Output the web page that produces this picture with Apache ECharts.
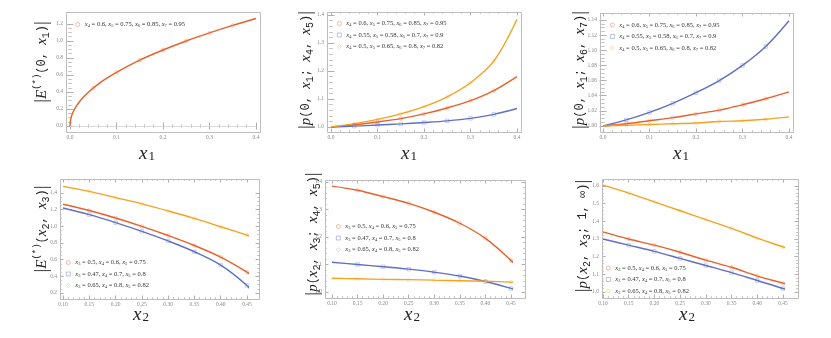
<!DOCTYPE html>
<html>
<head>
<meta charset="utf-8">
<script src="https://cdn.jsdelivr.net/npm/echarts@6/dist/echarts.min.js"></script>
<style>
  html, body { margin: 0; padding: 0; background: #fff; }
  #chart { width: 831px; height: 338px; }
</style>
</head>
<body>
<div id="chart"></div>
<script>
// 六个小图，数据按图分开写在上面
const xTop = [0, 0.05, 0.1, 0.15, 0.2, 0.25, 0.3, 0.35, 0.4];
const xP1 = [0, 0.001, 0.003, 0.006, 0.01, 0.015, 0.02, 0.03, 0.04, 0.05, 0.075, 0.1, 0.15, 0.2, 0.25, 0.3, 0.35, 0.4];
const eP1 = [0, 0.06, 0.11, 0.155, 0.2, 0.245, 0.283, 0.346, 0.4, 0.447, 0.548, 0.632, 0.775, 0.894, 1.0, 1.095, 1.183, 1.265];

const p2Red  = [1.0, 1.008, 1.018, 1.03, 1.047, 1.068, 1.094, 1.13, 1.18];
const p2Blue = [1.0, 1.003, 1.007, 1.011, 1.016, 1.022, 1.031, 1.045, 1.066];
const p2Gold = [1.0, 1.012, 1.027, 1.047, 1.073, 1.108, 1.158, 1.235, 1.385];

const p3Red  = [1.0, 1.003, 1.007, 1.011, 1.016, 1.021, 1.028, 1.036, 1.045];
const p3Blue = [1.0, 1.008, 1.018, 1.03, 1.044, 1.06, 1.08, 1.105, 1.139];
const p3Gold = [1.0, 1.001, 1.002, 1.003, 1.004, 1.006, 1.007, 1.009, 1.012];

const xP4 = [0.1, 0.15, 0.2, 0.25, 0.3, 0.35, 0.4, 0.45, 0.46];
const p4Red  = [1.265, 1.19, 1.1, 1.0, 0.89, 0.77, 0.63, 0.45, 0.40];
const p4Blue = [1.22, 1.14, 1.045, 0.94, 0.825, 0.695, 0.535, 0.29, 0.2];
const p4Gold = [1.48, 1.42, 1.345, 1.27, 1.185, 1.095, 0.995, 0.895, 0.875];

const xBot = [0.1, 0.15, 0.2, 0.25, 0.3, 0.35, 0.4, 0.45, 0.47];
const p5Red  = [1.385, 1.37, 1.347, 1.322, 1.29, 1.25, 1.195, 1.115, 1.075];
const p5Blue = [1.108, 1.1, 1.092, 1.083, 1.072, 1.058, 1.038, 1.013, 1.0];
const p5Gold = [1.05, 1.048, 1.046, 1.045, 1.043, 1.041, 1.039, 1.036, 1.034];

const p6Red  = [1.34, 1.3, 1.265, 1.225, 1.18, 1.14, 1.09, 1.05, 1.03];
const p6Blue = [1.30, 1.265, 1.23, 1.19, 1.15, 1.11, 1.065, 1.02, 1.0];
const p6Gold = [1.605, 1.56, 1.51, 1.46, 1.41, 1.36, 1.305, 1.255, 1.23];

const markTop = [0.05, 0.1, 0.15, 0.2, 0.25, 0.3, 0.35];
const markBot = [0.15, 0.2, 0.25, 0.3, 0.35, 0.4, 0.45];

const namesTop = ['x4 = 0.6, x5 = 0.75, x6 = 0.85, x7 = 0.95', 'x4 = 0.55, x5 = 0.58, x6 = 0.7, x7 = 0.9', 'x4 = 0.5, x5 = 0.65, x6 = 0.8, x7 = 0.82'];
const namesBot = ['x3 = 0.5, x4 = 0.6, x5 = 0.75', 'x3 = 0.47, x4 = 0.7, x5 = 0.8', 'x3 = 0.65, x4 = 0.8, x5 = 0.82'];

const RED = '#e8612c', BLUE = '#5f6fc7', GOLD = '#f4a21f';
const cols = [RED, BLUE, GOLD];
const icons = ['circle', 'rect', 'diamond'];
const SERIF = '"Liberation Serif", "DejaVu Serif", serif';
const MONO = '"Liberation Mono", "DejaVu Sans Mono", monospace';

// 版面：grid 只覆盖刻度范围，外框单独画
const panels = [
  { grid: [70, 24, 186, 102], frame: [66, 12, 194, 120], off: [6, 12, 4, 4],
    x: [0, 0.4, 0.1, 1, 5], y: [0, 1.2, 0.2, 1, 4],
    xs: xP1, curves: [eP1], names: namesTop.slice(0, 1), marks: markTop,
    legend: [75.5, 21], ylab: [42, 62], xlab: [147, 154, 'x', '1'],
    ytxt: '{bar||}{i|E}{sup|(*)}{m|(0, }{i|x}{sub|1}{m|)}{bar||}' },
  { grid: [331, 15, 186, 112], frame: [327, 12, 194, 120], off: [5, 3, 4, 4],
    x: [0, 0.4, 0.1, 1, 5], y: [1.0, 1.4, 0.1, 1, 5],
    xs: xTop, curves: [p2Red, p2Blue, p2Gold], names: namesTop, marks: markTop,
    legend: [337, 20], ylab: [306, 70], xlab: [409, 154, 'x', '1'],
    ytxt: '{bar||}{i|p}{m|(0, }{i|x}{sub|1}{m|; }{i|x}{sub|4}{m|, }{i|x}{sub|5}{m|)}{bar||}' },
  { grid: [603, 20, 186, 106], frame: [600, 13, 193, 119], off: [6, 7, 3, 4],
    x: [0, 0.4, 0.1, 1, 5], y: [1.0, 1.14, 0.02, 2, 4],
    xs: xTop, curves: [p3Red, p3Blue, p3Gold], names: namesTop, marks: markTop,
    legend: [610, 21.5], ylab: [580, 70], xlab: [681, 154, 'x', '1'],
    ytxt: '{bar||}{i|p}{m|(0, }{i|x}{sub|1}{m|; }{i|x}{sub|6}{m|, }{i|x}{sub|7}{m|)}{bar||}' },
  { grid: [63, 193, 184, 100], frame: [60, 179, 199, 120], off: [6, 14, 3, 12],
    x: [0.1, 0.45, 0.05, 2, 5], y: [0.2, 1.4, 0.2, 1, 4],
    xs: xP4, curves: [p4Red, p4Blue, p4Gold], names: namesBot, marks: markBot,
    legend: [66, 259], ylab: [42, 229], xlab: [141, 315, 'x', '2'],
    ytxt: '{bar||}{i|E}{sup|(*)}{m|(}{i|x}{sub|2}{m|, }{i|x}{sub|3}{m|)}{bar||}' },
  { grid: [332, 182, 179, 110], frame: [325, 180, 200, 118], off: [6, 2, 7, 14],
    x: [0.1, 0.45, 0.05, 2, 5], y: [1.0, 1.4, 0.1, 1, 5],
    xs: xBot, curves: [p5Red, p5Blue, p5Gold], names: namesBot, marks: markBot,
    legend: [336, 223], ylab: [313, 234], xlab: [412, 315, 'x', '2'],
    ytxt: '{bar||}{i|p}{m|(}{i|x}{sub|2}{m|, }{i|x}{sub|3}{m|; }{i|x}{sub|4}{m|, }{i|x}{sub|5}{m|)}{bar||}' },
  { grid: [603, 186, 180, 106], frame: [602, 179, 196, 119], off: [6, 7, 1, 15],
    x: [0.1, 0.45, 0.05, 2, 5], y: [1.0, 1.6, 0.1, 1, 5],
    xs: xBot, curves: [p6Red, p6Blue, p6Gold], names: namesBot, marks: markBot,
    legend: [606, 264.5], ylab: [583, 236], xlab: [687, 315, 'x', '2'],
    ytxt: '{bar||}{i|p}{m|(}{i|x}{sub|2}{m|, }{i|x}{sub|3}{m|; 1, \u221e)}{bar||}' }
];

const tickCol = '#9a9a9a';
const grids = [], xAxes = [], yAxes = [], series = [], legends = [], graphics = [];

function axisBase(r, show) {
  return {
    min: r[0], max: r[1], interval: r[2],
    axisLine: { show: false },
    axisTick: { show: true, inside: true, length: 3.5, lineStyle: { color: tickCol, width: 0.8 } },
    minorTick: { show: true, splitNumber: r[4], length: 1.8, lineStyle: { color: tickCol, width: 0.6 } },
    splitLine: { show: false },
    axisLabel: {
      show: show, fontSize: 5.5, color: '#8a8a8a', fontFamily: SERIF, margin: 3,
      formatter: v => v.toFixed(r[3])
    }
  };
}

panels.forEach((p, i) => {
  grids.push({ left: p.grid[0], top: p.grid[1], width: p.grid[2], height: p.grid[3] });
  xAxes.push(Object.assign(axisBase(p.x, true), { type: 'value', gridIndex: i, position: 'bottom', offset: p.off[0] }));
  xAxes.push(Object.assign(axisBase(p.x, false), { type: 'value', gridIndex: i, position: 'top', offset: p.off[1] }));
  yAxes.push(Object.assign(axisBase(p.y, true), { type: 'value', gridIndex: i, position: 'left', offset: p.off[2] }));
  yAxes.push(Object.assign(axisBase(p.y, false), { type: 'value', gridIndex: i, position: 'right', offset: p.off[3] }));

  p.curves.forEach((ys, k) => {
    const pts = p.xs.map((x, j) => [x, ys[j]]);
    const line = {
      type: 'line', name: p.names[k], xAxisIndex: 2 * i, yAxisIndex: 2 * i,
      data: pts, smooth: 0.35, showSymbol: false, symbol: 'none', clip: false,
      lineStyle: { color: cols[k], width: 1.4 }, z: 3
    };
    if (i === 0) {
      line.markLine = {
        silent: true, symbol: 'none', label: { show: false },
        lineStyle: { color: '#d0d0d0', type: 'solid', width: 0.8 },
        data: [{ yAxis: 0 }]
      };
    }
    series.push(line);
    series.push({
      type: 'scatter', name: p.names[k], xAxisIndex: 2 * i, yAxisIndex: 2 * i,
      data: pts.filter(d => p.marks.some(m => Math.abs(m - d[0]) < 1e-9)),
      symbol: icons[k], symbolSize: k === 2 ? 4 : 3.5, clip: false,
      itemStyle: { color: 'transparent', borderColor: cols[k], borderWidth: 0.7, opacity: 0.45 }, z: 4
    });
  });

  legends.push({
    orient: 'vertical', left: p.legend[0], top: p.legend[1],
    itemWidth: 4, itemHeight: 4, itemGap: 4, padding: 0, selectedMode: false,
    data: p.names.map((n, k) => ({
      name: n, icon: icons[k],
      itemStyle: { color: 'transparent', borderColor: cols[k], borderWidth: 0.7, opacity: 0.6 }
    })),
    formatter: n => n.replace(/x(\d)/g, '{i|x}{s|$1}'),
    textStyle: {
      fontFamily: SERIF, fontSize: 6.5, color: '#333',
      rich: {
        i: { fontFamily: SERIF, fontStyle: 'italic', fontSize: 6.5, color: '#333' },
        s: { fontFamily: SERIF, fontSize: 4.5, color: '#333', verticalAlign: 'bottom', padding: [3, 0, 0, 0] }
      }
    }
  });

  // 外框
  graphics.push({
    type: 'rect', silent: true, z: 10,
    shape: { x: p.frame[0] + 0.5, y: p.frame[1] + 0.5, width: p.frame[2], height: p.frame[3] },
    style: { fill: 'none', stroke: '#bdbdbd', lineWidth: 1 }
  });
  // 纵轴标题
  graphics.push({
    type: 'text', silent: true, x: p.ylab[0], y: p.ylab[1], rotation: Math.PI / 2,
    style: {
      text: p.ytxt, align: 'center', verticalAlign: 'middle', fill: '#222',
      rich: {
        bar: { fontFamily: SERIF, fontSize: 19, fill: '#333' },
        i: { fontFamily: SERIF, fontStyle: 'italic', fontSize: 15, fill: '#222' },
        m: { fontFamily: MONO, fontSize: 12, fill: '#222' },
        sup: { fontFamily: MONO, fontSize: 9, fill: '#222', verticalAlign: 'top', padding: [0, 0, 6, 0] },
        sub: { fontFamily: MONO, fontSize: 10, fill: '#222', verticalAlign: 'bottom', padding: [4, 0, 0, 0] }
      }
    }
  });
  // 横轴标题
  graphics.push({
    type: 'text', silent: true, x: p.xlab[0], y: p.xlab[1],
    style: {
      text: '{i|' + p.xlab[2] + '}{s|' + p.xlab[3] + '}', align: 'center', verticalAlign: 'middle',
      rich: {
        i: { fontFamily: SERIF, fontStyle: 'italic', fontSize: 19, fill: '#222' },
        s: { fontFamily: SERIF, fontSize: 13, fill: '#222', verticalAlign: 'bottom', padding: [6, 0, 0, 1] }
      }
    }
  });
});

const myChart = echarts.init(document.getElementById('chart'));
const option = {
  backgroundColor: '#fff',
  animation: false,
  grid: grids,
  xAxis: xAxes,
  yAxis: yAxes,
  legend: legends,
  series: series,
  graphic: graphics
};
option && myChart.setOption(option);
</script>
</body>
</html>
